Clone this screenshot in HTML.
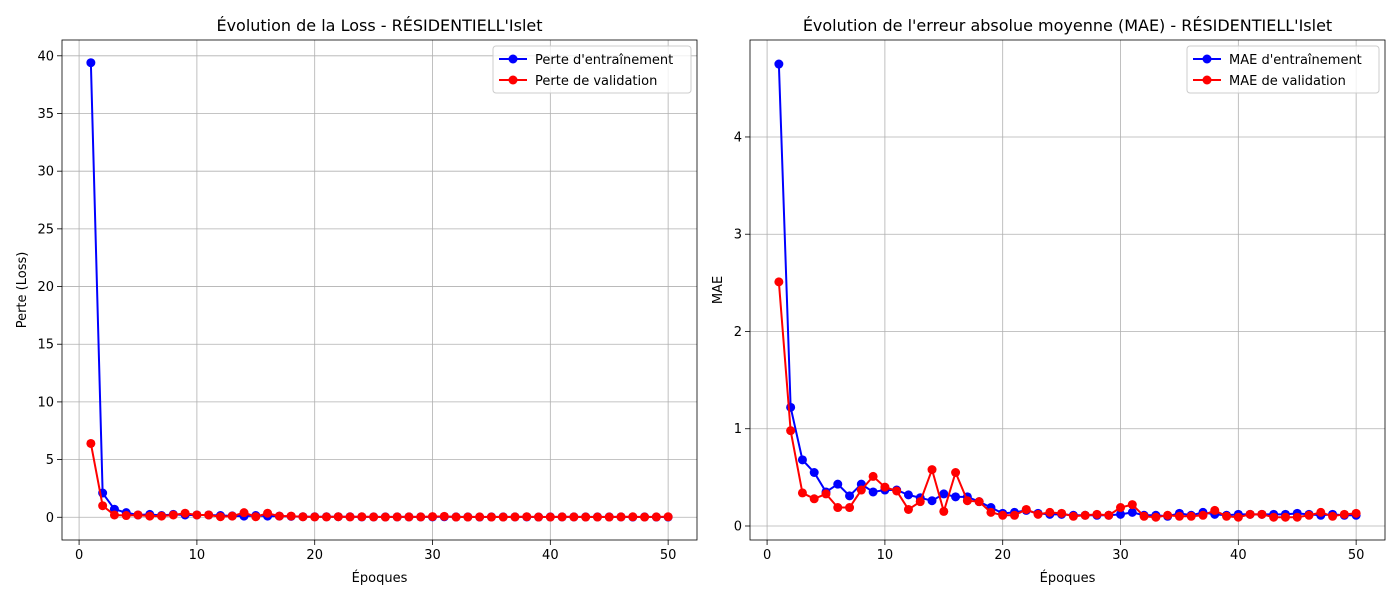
<!DOCTYPE html>
<html><head><meta charset="utf-8"><style>
body{margin:0;background:#fff;}
svg text{font-family:"DejaVu Sans","Liberation Sans",sans-serif;fill:#000;}
</style></head><body>
<svg id="svg" width="1400" height="600" xmlns="http://www.w3.org/2000/svg"></svg>
<script>
const epochs = Array.from({length:50},(_,i)=>i+1);
const lossTrain = [39.4,2.1,0.7,0.4,0.2,0.25,0.15,0.25,0.2,0.2,0.2,0.15,0.12,0.1,0.15,0.1,0.1,0.08,0.05,0.04,0.04,0.05,0.04,0.03,0.03,0.03,0.03,0.03,0.03,0.03,0.04,0.03,0.03,0.02,0.03,0.03,0.03,0.03,0.02,0.03,0.03,0.03,0.03,0.03,0.03,0.03,0.02,0.03,0.02,0.02];
const lossVal = [6.4,1.0,0.2,0.15,0.2,0.1,0.1,0.2,0.35,0.2,0.2,0.05,0.1,0.4,0.05,0.35,0.1,0.1,0.04,0.03,0.03,0.05,0.03,0.04,0.03,0.02,0.03,0.03,0.03,0.06,0.08,0.02,0.02,0.03,0.02,0.02,0.03,0.05,0.02,0.02,0.03,0.03,0.02,0.02,0.02,0.03,0.04,0.02,0.03,0.04];
const maeTrain = [4.75,1.22,0.68,0.55,0.35,0.43,0.31,0.43,0.35,0.37,0.37,0.32,0.29,0.26,0.33,0.30,0.30,0.25,0.19,0.13,0.14,0.16,0.13,0.12,0.12,0.11,0.11,0.11,0.11,0.12,0.14,0.11,0.11,0.10,0.13,0.11,0.14,0.12,0.11,0.12,0.12,0.12,0.12,0.12,0.13,0.12,0.11,0.12,0.11,0.11];
const maeVal = [2.51,0.98,0.34,0.28,0.33,0.19,0.19,0.37,0.51,0.40,0.36,0.17,0.25,0.58,0.15,0.55,0.26,0.25,0.14,0.11,0.11,0.17,0.12,0.14,0.13,0.10,0.11,0.12,0.11,0.19,0.22,0.10,0.09,0.11,0.10,0.10,0.11,0.16,0.10,0.09,0.12,0.12,0.09,0.09,0.09,0.11,0.14,0.10,0.12,0.13];
const xTicks = [0,10,20,30,40,50];
const lossTicks = [0,5,10,15,20,25,30,35,40];
const maeTicks = [0,1,2,3,4];

const svg = document.getElementById('svg');
const NS = 'http://www.w3.org/2000/svg';
function mk(tag, attrs, parent){const e=document.createElementNS(NS,tag);for(const k in attrs)e.setAttribute(k,attrs[k]);(parent||svg).appendChild(e);return e;}

function chart(o){
  const g = mk('g',{});
  
  
  const {L,R,T,B} = o;
  const xmin=-1.45, xmax=52.45;
  const sx = v => L + (v - xmin)/(xmax - xmin)*(R-L);
  const sy = v => B - (v - o.ymin)/(o.ymax - o.ymin)*(B-T);
  // grid
  xTicks.forEach(t=>{
    const l = mk('line',{x1:sx(t),x2:sx(t),y1:T,y2:B,stroke:'#b0b0b0','stroke-width':0.8},g);
    
    
    mk('line',{x1:sx(t),x2:sx(t),y1:B,y2:B+5,stroke:'#000','stroke-width':0.8},g);
    const tx = mk('text',{x:sx(t),y:B+19,'text-anchor':'middle','font-size':13},g);
    tx.textContent = t;
    
    
  });
  o.yTicks.forEach(t=>{
    const l = mk('line',{x1:L,x2:R,y1:sy(t),y2:sy(t),stroke:'#b0b0b0','stroke-width':0.8},g);
    
    
    mk('line',{x1:L-5,x2:L,y1:sy(t),y2:sy(t),stroke:'#000','stroke-width':0.8},g);
    const tx = mk('text',{x:L-8,y:sy(t)+4.5,'text-anchor':'end','font-size':13},g);
    tx.textContent = t;
    
    
  });
  // series
  [[o.a,'#0000ff',o.na],[o.b,'#ff0000',o.nb]].forEach(([data,col,nm])=>{
    const pl = mk('polyline',{points:data.map((v,i)=>sx(epochs[i])+','+sy(v)).join(' '),fill:'none',stroke:col,'stroke-width':2},g);
    
    
    data.forEach((v,i)=>{
      const c = mk('circle',{cx:sx(epochs[i]),cy:sy(v),r:4.5,fill:col},g);
      
      
    });
  });
  const fr = mk('rect',{x:L,y:T,width:R-L,height:B-T,fill:'none',stroke:'#000','stroke-width':0.8},g);
  
  
  const ti = mk('text',{x:(L+R)/2,y:T-9,'text-anchor':'middle','font-size':16},g);
  ti.textContent = o.title;
  
  
  const xl = mk('text',{x:(L+R)/2,y:B+42,'text-anchor':'middle','font-size':13},g);
  xl.textContent = 'Époques';
  
  
  const yl = mk('text',{x:0,y:0,'text-anchor':'middle','font-size':13,transform:`translate(${o.ylx},${(T+B)/2}) rotate(-90)`},g);
  yl.textContent = o.ylabel;
  
  
  // legend
  const lg = mk('g',{},g);
  
  
  const lx = R-6-o.lw, ly = T+6;
  mk('rect',{x:lx,y:ly,width:o.lw,height:47,rx:3,fill:'#fff','fill-opacity':0.8,stroke:'#cccccc'},lg);
  [[o.la,'#0000ff'],[o.lb,'#ff0000']].forEach(([t,col],k)=>{
    const yy = ly+13+k*21;
    mk('line',{x1:lx+6,x2:lx+34,y1:yy,y2:yy,stroke:col,'stroke-width':2},lg);
    mk('circle',{cx:lx+20,cy:yy,r:4.5,fill:col},lg);
    const tx = mk('text',{x:lx+42,y:yy+5,'font-size':13},lg);
    tx.textContent = t;
    
    
  });
}
chart({name:'loss-chart',L:62,R:697,T:40,B:540,ymin:-1.97,ymax:41.37,yTicks:lossTicks,a:lossTrain,b:lossVal,na:'train-loss',nb:'val-loss',
  title:"Évolution de la Loss - RÉSIDENTIELL'Islet",ylabel:'Perte (Loss)',ylx:26,la:"Perte d'entraînement",lb:'Perte de validation',lw:198});
chart({name:'mae-chart',L:750,R:1385,T:40,B:540,ymin:-0.144,ymax:4.997,yTicks:maeTicks,a:maeTrain,b:maeVal,na:'train-mae',nb:'val-mae',
  title:"Évolution de l'erreur absolue moyenne (MAE) - RÉSIDENTIELL'Islet",ylabel:'MAE',ylx:722,la:"MAE d'entraînement",lb:'MAE de validation',lw:192});
</script>
</body></html>
